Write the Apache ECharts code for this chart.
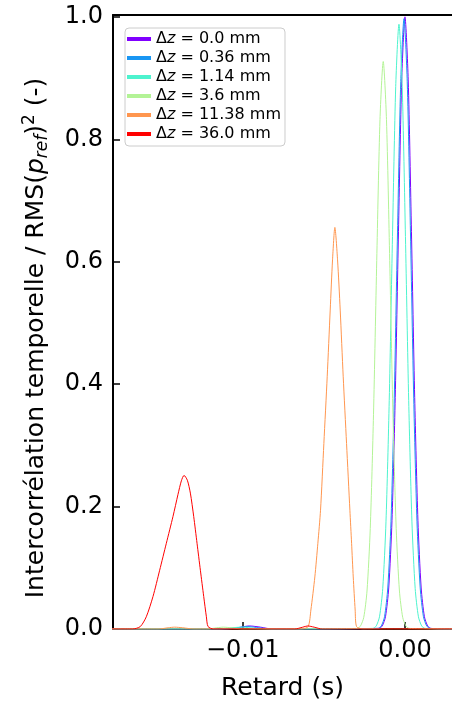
<!DOCTYPE html>
<html>
<head>
<meta charset="utf-8">
<script src="https://cdn.jsdelivr.net/npm/echarts@6/dist/echarts.min.js"></script>
<style>
html,body{margin:0;padding:0;background:#fff;}
#chart{width:452px;height:704px;}
</style>
</head>
<body>
<div id="chart"></div>
<script>
// Legend labels (Δz in mm)
const dzLabels = ['0.0', '0.36', '1.14', '3.6', '11.38', '36.0'];
const colors = ['#8000ff', '#1996f3', '#4df3ce', '#b3f396', '#ff964f', '#ff0000'];

// Each series: [retard (s), normalized intercorrelation]
const dz0 = [[-0.0185,0],[-0.0110,0],[-0.0103,0.002],[-0.0096,0.005],[-0.0089,0.003],[-0.0082,0],
  [-0.0016,0.001],[-0.0014,0.005],[-0.0012,0.020],[-0.0010,0.067],[-0.0008,0.177],[-0.0006,0.378],
  [-0.0004,0.649],[-0.0002,0.897],[0,1.0],[0.0002,0.897],[0.0004,0.649],[0.0006,0.378],
  [0.0008,0.177],[0.0010,0.067],[0.0012,0.020],[0.0014,0.005],[0.0016,0.001],[0.0030,0]];

const dz036 = [[-0.0185,0],[-0.0112,0],[-0.0104,0.002],[-0.0097,0.004],[-0.0090,0.002],[-0.0083,0],
  [-0.00166,0.001],[-0.00146,0.005],[-0.00126,0.020],[-0.00106,0.067],[-0.00086,0.176],[-0.00066,0.377],
  [-0.00046,0.647],[-0.00026,0.894],[-0.00006,0.997],[0.00014,0.894],[0.00034,0.647],[0.00054,0.377],
  [0.00074,0.176],[0.00094,0.067],[0.00114,0.020],[0.00134,0.005],[0.00154,0.001],[0.0030,0]];

const dz114 = [[-0.0185,0],[-0.0115,0],[-0.0107,0.002],[-0.0100,0.003],[-0.0093,0.001],[-0.0086,0],
  [-0.00197,0.001],[-0.00177,0.005],[-0.00157,0.020],[-0.00137,0.066],[-0.00117,0.175],[-0.00097,0.373],
  [-0.00077,0.641],[-0.00057,0.886],[-0.00037,0.988],[-0.00017,0.886],[0.00003,0.641],[0.00023,0.373],
  [0.00043,0.175],[0.00063,0.066],[0.00083,0.020],[0.00103,0.005],[0.00123,0.001],[0.0030,0]];

const dz36 = [[-0.0185,0],[-0.0122,0],[-0.0116,0.002],[-0.0112,0.003],[-0.0107,0.002],[-0.0100,0],
  [-0.00294,0.001],[-0.00274,0.005],[-0.00254,0.019],[-0.00234,0.062],[-0.00214,0.164],[-0.00194,0.350],
  [-0.00174,0.602],[-0.00154,0.832],[-0.00134,0.927],[-0.00114,0.832],[-0.00094,0.602],[-0.00074,0.350],
  [-0.00054,0.164],[-0.00034,0.062],[-0.00014,0.019],[0.00006,0.005],[0.00026,0.001],[0.0030,0]];

const dz1138 = [[-0.0185,0],[-0.0152,0],[-0.0146,0.002],[-0.0142,0.003],[-0.0137,0.002],[-0.0130,0],
  [-0.0064,0],[-0.005967,0.004],[-0.0058,0.031],[-0.005556,0.085],[-0.00537,0.140],[-0.005206,0.194],
  [-0.005,0.303],[-0.004794,0.412],[-0.004609,0.521],[-0.004465,0.603],[-0.004321,0.656],
  [-0.004156,0.603],[-0.003992,0.521],[-0.003807,0.412],[-0.003601,0.303],[-0.003395,0.194],
  [-0.00329,0.140],[-0.003189,0.085],[-0.00307,0.031],[-0.002984,0.004],[-0.0026,0],[0.0030,0]];

const dz360 = [[-0.0185,0],[-0.0168,0],[-0.016317,0.004],[-0.015947,0.020],[-0.015535,0.053],
  [-0.015123,0.096],[-0.014712,0.140],[-0.014300,0.184],[-0.013992,0.220],[-0.013786,0.242],
  [-0.013621,0.251],[-0.013416,0.243],[-0.013230,0.222],[-0.013025,0.184],[-0.012819,0.140],
  [-0.012613,0.096],[-0.012407,0.053],[-0.012243,0.020],[-0.012140,0.004],[-0.0118,0],
  [-0.0068,0],[-0.0063,0.003],[-0.0060,0.005],[-0.0056,0.003],[-0.0051,0],[0.0030,0]];

const xTicks = [-0.01, 0];
const yTicks = [0, 0.2, 0.4, 0.6, 0.8, 1.0];

const seriesData = [dz0, dz036, dz114, dz36, dz1138, dz360];
const FONT = 'DejaVu Sans';

const chart = echarts.init(document.getElementById('chart'), null, {renderer: 'canvas'});
chart.setOption({
  animation: false,
  backgroundColor: '#ffffff',
  grid: {left: 113, top: 15, right: 0, bottom: 75, containLabel: false, outerBoundsMode: 'none'},
  legend: {
    left: 125, top: 28, orient: 'vertical',
    padding: [3, 4, 4, 2], itemGap: 3, itemWidth: 24, itemHeight: 4,
    icon: 'rect',
    borderColor: '#cccccc', borderWidth: 1, borderRadius: 4,
    backgroundColor: 'rgba(255,255,255,0.8)',
    formatter: function (name) {
      return '{n|Δ}{i|z}{n|' + name.slice(2) + '}';
    },
    textStyle: {
      fontFamily: FONT, fontSize: 16, color: '#000', lineHeight: 16,
      rich: {
        n: {fontFamily: FONT, fontSize: 16, color: '#000', lineHeight: 16},
        i: {fontFamily: FONT, fontSize: 16, color: '#000', fontStyle: 'italic', lineHeight: 16}
      }
    },
    data: dzLabels.map(v => 'Δz = ' + v + ' mm')
  },
  graphic: [{
    type: 'text',
    x: 36, y: 338,
    rotation: Math.PI / 2,
    silent: true,
    style: {
      text: '{a|Intercorrélation temporelle / RMS(}{i|p}{s|ref}{a|)}{u|2}{a| (-)}',
      align: 'center', verticalAlign: 'middle',
      fontFamily: FONT, fontSize: 25, fill: '#000',
      rich: {
        a: {fontFamily: FONT, fontSize: 25, fill: '#000', lineHeight: 30},
        i: {fontFamily: FONT, fontSize: 25, fill: '#000', fontStyle: 'italic', lineHeight: 30},
        s: {fontFamily: FONT, fontSize: 17, fill: '#000', fontStyle: 'italic', lineHeight: 18, verticalAlign: 'bottom'},
        u: {fontFamily: FONT, fontSize: 17, fill: '#000', lineHeight: 18, verticalAlign: 'top'}
      }
    }
  }],
  xAxis: [{
    type: 'value', min: -0.018, max: 0.0029,
    name: 'Retard (s)', nameLocation: 'middle', nameGap: 47,
    nameTextStyle: {fontFamily: FONT, fontSize: 25, color: '#000'},
    axisLine: {show: true, onZero: false, lineStyle: {color: '#000', width: 2}},
    axisTick: {show: true, inside: true, length: 7, lineStyle: {color: '#000', width: 1.5}, customValues: xTicks},
    axisLabel: {show: true, margin: 10, fontFamily: FONT, fontSize: 24, color: '#000', customValues: xTicks,
      formatter: v => (v < 0 ? '\u2212' : '') + Math.abs(v).toFixed(2)},
    splitLine: {show: false}
  }, {
    type: 'value', position: 'top', min: -0.018, max: 0.0029,
    axisLine: {show: true, onZero: false, lineStyle: {color: '#000', width: 2}},
    axisTick: {show: false}, axisLabel: {show: false}, splitLine: {show: false}
  }],
  yAxis: {
    type: 'value', min: 0, max: 1.003,
    axisLine: {show: true, onZero: false, lineStyle: {color: '#000', width: 2}},
    axisTick: {show: true, inside: true, length: 7, lineStyle: {color: '#000', width: 1.5}, customValues: yTicks},
    axisLabel: {show: true, margin: 10, fontFamily: FONT, fontSize: 24, color: '#000', customValues: yTicks,
      formatter: v => v.toFixed(1)},
    splitLine: {show: false}
  },
  series: seriesData.map((d, i) => ({
    type: 'line',
    name: 'Δz = ' + dzLabels[i] + ' mm',
    data: d,
    xAxisIndex: 0,
    showSymbol: false,
    symbol: 'none',
    smooth: 0.25,
    clip: true,
    color: colors[i],
    lineStyle: {color: colors[i], width: 1}
  }))
});
</script>
</body>
</html>
